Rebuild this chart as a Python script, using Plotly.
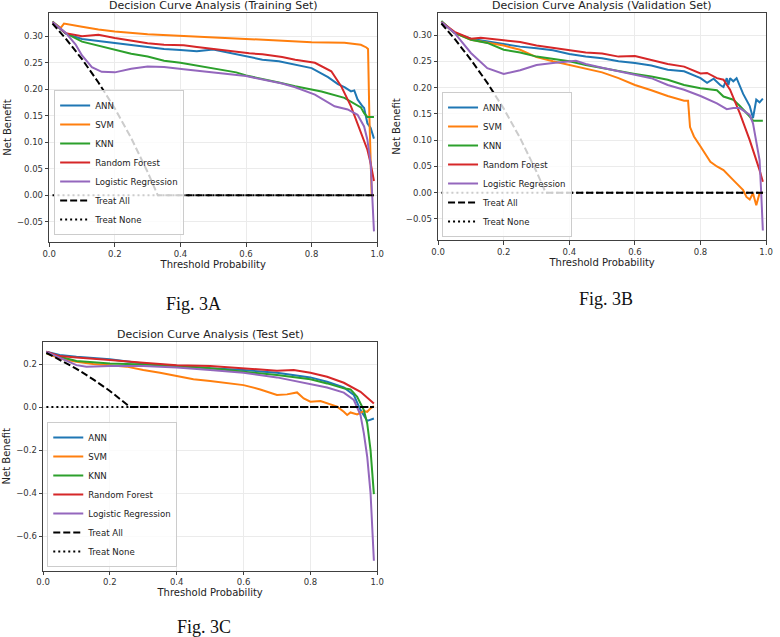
import plotly.graph_objects as go

# ---------------- Fig. 3A : Training set ----------------
A_ann_x = [0.01,0.05,0.1,0.15,0.2,0.25,0.3,0.35,0.4,0.45,0.5,0.55,0.6,0.65,0.7,0.75,0.8,0.85,0.88,0.9,0.92,0.93,0.94,0.955,0.96,0.97,0.98,0.99]
A_ann_y = [0.327,0.305,0.295,0.291,0.287,0.283,0.279,0.276,0.274,0.272,0.275,0.269,0.262,0.256,0.253,0.247,0.240,0.223,0.210,0.204,0.196,0.198,0.181,0.168,0.165,0.136,0.127,0.107]
A_svm_x = [0.01,0.035,0.045,0.06,0.1,0.15,0.2,0.3,0.4,0.5,0.6,0.7,0.8,0.9,0.95,0.967,0.972,0.976,0.98,0.983,0.99]
A_svm_y = [0.327,0.316,0.324,0.322,0.318,0.313,0.309,0.304,0.301,0.298,0.295,0.292,0.289,0.288,0.284,0.279,0.276,0.150,0.050,0.0,0.0]
A_knn_x = [0.01,0.05,0.1,0.15,0.2,0.25,0.3,0.35,0.4,0.45,0.5,0.55,0.57,0.6,0.65,0.7,0.75,0.8,0.83,0.9,0.93,0.95,0.96,0.97,0.99]
A_knn_y = [0.328,0.306,0.290,0.282,0.274,0.267,0.262,0.254,0.250,0.245,0.240,0.235,0.232,0.226,0.220,0.213,0.206,0.199,0.196,0.184,0.174,0.166,0.155,0.148,0.148]
A_rf_x = [0.01,0.05,0.1,0.15,0.2,0.25,0.3,0.35,0.41,0.45,0.51,0.55,0.61,0.65,0.71,0.75,0.81,0.86,0.89,0.92,0.95,0.97,0.98,0.99]
A_rf_y = [0.327,0.306,0.300,0.303,0.297,0.292,0.287,0.284,0.283,0.280,0.275,0.272,0.268,0.266,0.261,0.256,0.250,0.234,0.206,0.168,0.118,0.086,0.060,0.027]
A_lr_x = [0.01,0.05,0.08,0.1,0.13,0.16,0.2,0.25,0.3,0.35,0.41,0.5,0.56,0.6,0.71,0.75,0.81,0.87,0.91,0.94,0.96,0.97,0.98,0.985,0.99]
A_lr_y = [0.327,0.307,0.285,0.264,0.242,0.233,0.232,0.239,0.243,0.242,0.238,0.232,0.228,0.225,0.211,0.204,0.190,0.168,0.162,0.152,0.130,0.105,0.060,0.0,-0.068]
A_all_x = [0.01,0.05,0.1,0.15,0.2,0.25,0.3,0.331,0.99]
A_all_y = [0.324,0.296,0.257,0.213,0.164,0.108,0.044,0.0,0.0]

# ---------------- Fig. 3B : Validation set ----------------
B_ann_x = [0.01,0.05,0.1,0.15,0.2,0.25,0.3,0.35,0.4,0.45,0.5,0.55,0.6,0.65,0.7,0.75,0.8,0.82,0.84,0.86,0.87,0.88,0.885,0.89,0.9,0.91,0.93,0.95,0.96,0.97,0.98,0.99]
B_ann_y = [0.325,0.304,0.293,0.288,0.283,0.278,0.275,0.271,0.264,0.259,0.256,0.250,0.247,0.242,0.234,0.231,0.218,0.209,0.217,0.205,0.201,0.218,0.205,0.218,0.212,0.218,0.188,0.165,0.142,0.177,0.172,0.179]
B_svm_x = [0.01,0.05,0.1,0.15,0.2,0.25,0.3,0.35,0.4,0.45,0.5,0.55,0.6,0.65,0.7,0.75,0.762,0.768,0.78,0.8,0.83,0.85,0.87,0.9,0.93,0.94,0.95,0.96,0.97,0.98,0.99]
B_svm_y = [0.325,0.304,0.291,0.285,0.280,0.272,0.258,0.250,0.243,0.237,0.229,0.218,0.205,0.195,0.184,0.175,0.175,0.125,0.107,0.088,0.059,0.050,0.043,0.024,0.005,-0.008,-0.013,-0.001,-0.024,-0.001,0.000]
B_knn_x = [0.01,0.05,0.1,0.15,0.2,0.25,0.3,0.35,0.4,0.45,0.5,0.55,0.6,0.65,0.7,0.75,0.8,0.85,0.87,0.9,0.92,0.95,0.96,0.99]
B_knn_y = [0.327,0.304,0.291,0.285,0.272,0.267,0.259,0.254,0.250,0.243,0.237,0.231,0.226,0.221,0.215,0.205,0.199,0.195,0.183,0.177,0.165,0.145,0.137,0.137]
B_rf_x = [0.01,0.05,0.1,0.13,0.2,0.25,0.3,0.35,0.4,0.45,0.5,0.55,0.6,0.65,0.7,0.75,0.8,0.82,0.85,0.87,0.89,0.92,0.95,0.98,0.99]
B_rf_y = [0.325,0.306,0.293,0.295,0.290,0.287,0.280,0.276,0.271,0.267,0.265,0.259,0.260,0.253,0.245,0.240,0.227,0.228,0.218,0.215,0.196,0.151,0.100,0.043,0.021]
B_lr_x = [0.01,0.05,0.1,0.15,0.2,0.25,0.3,0.35,0.42,0.45,0.5,0.55,0.6,0.65,0.7,0.75,0.8,0.85,0.88,0.9,0.92,0.95,0.96,0.97,0.98,0.985,0.99]
B_lr_y = [0.325,0.304,0.266,0.237,0.226,0.233,0.243,0.247,0.251,0.245,0.238,0.231,0.224,0.218,0.205,0.196,0.184,0.170,0.159,0.161,0.161,0.148,0.132,0.100,0.062,0.0,-0.072]
B_all_x = [0.01,0.05,0.1,0.15,0.2,0.25,0.3,0.328,0.99]
B_all_y = [0.322,0.293,0.253,0.209,0.160,0.104,0.040,0.0,0.0]

# ---------------- Fig. 3C : Test set ----------------
C_ann_x = [0.01,0.05,0.1,0.2,0.3,0.4,0.5,0.6,0.7,0.8,0.85,0.9,0.93,0.95,0.97,0.99]
C_ann_y = [0.257,0.242,0.234,0.222,0.203,0.191,0.180,0.172,0.160,0.138,0.118,0.091,0.056,-0.014,-0.064,-0.053]
C_svm_x = [0.01,0.05,0.1,0.15,0.2,0.25,0.3,0.35,0.4,0.45,0.5,0.55,0.6,0.65,0.7,0.73,0.76,0.78,0.8,0.83,0.86,0.88,0.9,0.91,0.92,0.94,0.96,0.97,0.98,0.99]
C_svm_y = [0.250,0.226,0.211,0.200,0.195,0.188,0.172,0.160,0.144,0.129,0.121,0.113,0.102,0.082,0.056,0.059,0.068,0.040,0.025,0.028,0.014,0.002,-0.022,-0.037,-0.025,-0.034,-0.019,-0.022,-0.006,0.005]
C_knn_x = [0.01,0.05,0.1,0.15,0.2,0.3,0.4,0.5,0.6,0.7,0.8,0.85,0.9,0.92,0.94,0.96,0.97,0.98,0.99]
C_knn_y = [0.250,0.234,0.214,0.208,0.203,0.198,0.191,0.180,0.164,0.149,0.129,0.110,0.087,0.082,0.048,-0.014,-0.076,-0.200,-0.405]
C_rf_x = [0.01,0.05,0.1,0.15,0.2,0.3,0.4,0.5,0.6,0.7,0.75,0.8,0.85,0.9,0.95,0.99]
C_rf_y = [0.257,0.237,0.231,0.226,0.219,0.206,0.195,0.191,0.180,0.169,0.172,0.160,0.141,0.113,0.071,0.017]
C_lr_x = [0.01,0.05,0.1,0.13,0.2,0.3,0.4,0.5,0.6,0.7,0.8,0.85,0.9,0.93,0.95,0.96,0.97,0.98,0.99]
C_lr_y = [0.257,0.231,0.195,0.188,0.191,0.191,0.184,0.172,0.160,0.138,0.107,0.091,0.067,0.033,-0.037,-0.122,-0.231,-0.400,-0.715]
C_all_x = [0.01,0.05,0.1,0.15,0.2,0.25,0.26,0.99]
C_all_y = [0.2525,0.221,0.178,0.129,0.075,0.013,0.0,0.0]

TREAT_NONE_X = [0.01, 0.99]
TREAT_NONE_Y = [0.0, 0.0]

MODEL_NAMES = ["ANN", "SVM", "KNN", "Random Forest", "Logistic Regression"]
MODEL_COLORS = ["#1f77b4", "#ff7f0e", "#2ca02c", "#d62728", "#9467bd"]

TITLES = ["Decision Curve Analysis (Training Set)",
          "Decision Curve Analysis (Validation Set)",
          "Decision Curve Analysis (Test Set)"]
CAPTIONS = ["Fig. 3A", "Fig. 3B", "Fig. 3C"]

panels = [
    dict(xa="x", ya="y", lg="legend",
         models=[(A_ann_x, A_ann_y), (A_svm_x, A_svm_y), (A_knn_x, A_knn_y), (A_rf_x, A_rf_y), (A_lr_x, A_lr_y)],
         allx=A_all_x, ally=A_all_y),
    dict(xa="x2", ya="y2", lg="legend2",
         models=[(B_ann_x, B_ann_y), (B_svm_x, B_svm_y), (B_knn_x, B_knn_y), (B_rf_x, B_rf_y), (B_lr_x, B_lr_y)],
         allx=B_all_x, ally=B_all_y),
    dict(xa="x3", ya="y3", lg="legend3",
         models=[(C_ann_x, C_ann_y), (C_svm_x, C_svm_y), (C_knn_x, C_knn_y), (C_rf_x, C_rf_y), (C_lr_x, C_lr_y)],
         allx=C_all_x, ally=C_all_y),
]

FONT = "DejaVu Sans"
fig = go.Figure()
for p in panels:
    for name, col, (xs, ys) in zip(MODEL_NAMES, MODEL_COLORS, p["models"]):
        fig.add_trace(go.Scatter(x=xs, y=ys, mode="lines", name=name,
                                 line=dict(color=col, width=2),
                                 xaxis=p["xa"], yaxis=p["ya"], legend=p["lg"]))
    fig.add_trace(go.Scatter(x=p["allx"], y=p["ally"], mode="lines", name="Treat All",
                             line=dict(color="black", width=2, dash="7px,3px"),
                             xaxis=p["xa"], yaxis=p["ya"], legend=p["lg"]))
    fig.add_trace(go.Scatter(x=TREAT_NONE_X, y=TREAT_NONE_Y, mode="lines", name="Treat None",
                             line=dict(color="black", width=2, dash="2px,3px"),
                             xaxis=p["xa"], yaxis=p["ya"], legend=p["lg"]))

axis_common = dict(showline=True, mirror=True, linecolor="#404040", linewidth=1,
                   ticks="outside", ticklen=3.5, tickwidth=1, tickcolor="#404040",
                   showgrid=True, gridcolor="#ebebeb", gridwidth=1, zeroline=False,
                   tickfont=dict(family=FONT, size=8.5, color="#333333"),
                   title_font=dict(family=FONT, size=10, color="#222222"))

def xax(domain, anchor):
    return dict(axis_common, domain=domain, anchor=anchor, range=[0, 1], dtick=0.2, tick0=0,
                tickformat=".1f", title=dict(text="Threshold Probability", standoff=2))

def yax(domain, anchor, rng, dt, fmt):
    return dict(axis_common, domain=domain, anchor=anchor, range=rng, dtick=dt, tick0=0,
                tickformat=fmt, title=dict(text="Net Benefit", standoff=3))

legend_common = dict(bgcolor="rgba(255,255,255,0.8)", bordercolor="#cccccc", borderwidth=1,
                     font=dict(family=FONT, size=8.6, color="#222222"),
                     xanchor="left", yanchor="bottom", itemwidth=30, tracegroupgap=0)

W, H = 780, 637
ann = []
title_pos = [(210, 5.5), (606, 5.5), (207, 334.5)]
for t, (px, py) in zip(TITLES, title_pos):
    ann.append(dict(text=t, x=px / W, y=1 - py / H, xref="paper", yref="paper",
                    showarrow=False, xanchor="center", yanchor="middle",
                    font=dict(family=FONT, size=11, color="#222222")))
cap_pos = [(190, 304), (610, 299), (201, 627)]
for c, (px, py) in zip(CAPTIONS, cap_pos):
    ann.append(dict(text=c, x=px / W, y=1 - py / H, xref="paper", yref="paper",
                    showarrow=False, xanchor="center", yanchor="middle",
                    font=dict(family="Liberation Serif", size=18, color="#111111")))

fig.update_layout(
    width=W, height=H, margin=dict(l=0, r=0, t=0, b=0),
    paper_bgcolor="white", plot_bgcolor="white",
    xaxis=xax([43 / W, 377 / W], "y"),
    yaxis=yax([1 - 242 / H, 1 - 13 / H], "x", [-0.088, 0.344], 0.05, ".2f"),
    xaxis2=xax([439 / W, 773 / W], "y2"),
    yaxis2=yax([1 - 240 / H, 1 - 13 / H], "x2", [-0.090, 0.342], 0.05, ".2f"),
    xaxis3=xax([36.7 / W, 377 / W], "y3"),
    yaxis3=yax([1 - 570.7 / H, 1 - 341.7 / H], "x3", [-0.761, 0.304], 0.2, ".1f"),
    legend=dict(legend_common, x=48 / W, y=1 - 235 / H),
    legend2=dict(legend_common, x=443 / W, y=1 - 237 / H),
    legend3=dict(legend_common, x=41 / W, y=1 - 567 / H),
    annotations=ann,
    showlegend=True,
)

fig.write_html("out.html")
